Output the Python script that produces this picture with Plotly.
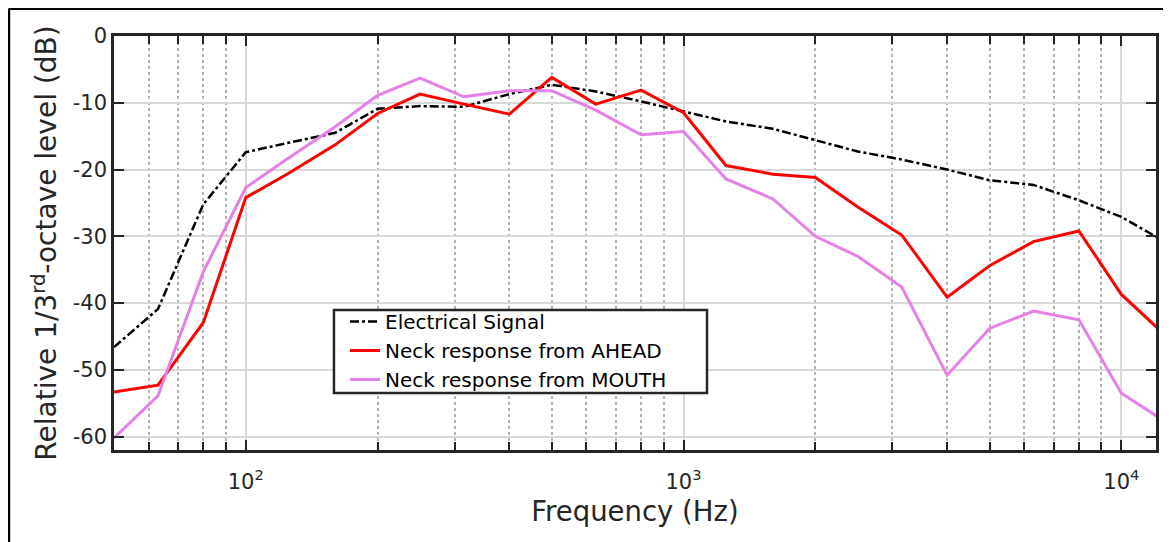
import plotly.graph_objects as go

# 1/3-octave centre frequencies (Hz)
freqs = [50, 63, 80, 100, 125, 160, 200, 250, 315, 400, 500, 630, 800, 1000,
         1250, 1600, 2000, 2500, 3150, 4000, 5000, 6300, 8000, 10000, 12500]

electrical = [-46.6, -40.9, -25.2, -17.4, -16.0, -14.5, -10.9, -10.5, -10.6, -8.7,
              -7.3, -8.3, -9.8, -11.3, -12.8, -13.9, -15.6, -17.3, -18.5, -20.0,
              -21.6, -22.3, -24.6, -27.1, -30.7]

ahead = [-53.3, -52.3, -42.9, -24.2, -20.6, -16.3, -11.6, -8.7, -10.2, -11.7,
         -6.2, -10.2, -8.1, -11.5, -19.4, -20.7, -21.2, -25.6, -29.8, -39.1,
         -34.4, -30.8, -29.2, -38.7, -44.6]

mouth = [-60.2, -53.9, -35.3, -22.7, -18.3, -13.6, -8.9, -6.3, -9.1, -8.2,
         -8.2, -11.1, -14.8, -14.3, -21.4, -24.4, -30.0, -33.0, -37.6, -50.8,
         -43.8, -41.2, -42.5, -53.5, -57.6]

series_names = ["Electrical Signal", "Neck response from AHEAD", "Neck response from MOUTH"]

x_major = [100, 1000, 10000]
x_major_text = ["10<sup>2</sup>", "10<sup>3</sup>", "10<sup>4</sup>"]
x_minor = [60, 70, 80, 90, 200, 300, 400, 500, 600, 700, 800, 900,
           2000, 3000, 4000, 5000, 6000, 7000, 8000, 9000]
y_ticks = [0, -10, -20, -30, -40, -50, -60]
y_tick_text = ["0", "-10", "-20", "-30", "-40", "-50", "-60"]

AX = "#262626"
FONT = "DejaVu Sans"

fig = go.Figure()
fig.add_trace(go.Scatter(x=freqs, y=electrical, mode="lines", name=series_names[0],
                         line=dict(color="black", width=2.5, dash="9px,3px,3px,3px")))
fig.add_trace(go.Scatter(x=freqs, y=ahead, mode="lines", name=series_names[1],
                         line=dict(color="#ff0000", width=3)))
fig.add_trace(go.Scatter(x=freqs, y=mouth, mode="lines", name=series_names[2],
                         line=dict(color="#e580e5", width=3)))

fig.update_xaxes(
    type="log", range=[1.69897, 4.07918],
    tickmode="array", tickvals=x_major, ticktext=x_major_text,
    ticks="inside", ticklen=10, tickwidth=2, tickcolor=AX,
    showline=True, linecolor=AX, linewidth=2.5, mirror="ticks",
    showgrid=True, gridcolor="#d8d8d8", gridwidth=2,
    minor=dict(tickmode="array", tickvals=x_minor, ticks="inside", ticklen=8,
               tickwidth=2, tickcolor=AX, showgrid=True, gridcolor="#b4b4b4",
               gridwidth=2, griddash="dot"),
    tickfont=dict(family=FONT, size=21, color=AX),
    ticklabelstandoff=11,
    title=dict(text="Frequency (Hz)", font=dict(family=FONT, size=27.5, color=AX), standoff=9),
    zeroline=False,
)
fig.update_yaxes(
    range=[-62, 0],
    tickmode="array", tickvals=y_ticks, ticktext=y_tick_text,
    ticks="inside", ticklen=10, tickwidth=2, tickcolor=AX,
    showline=True, linecolor=AX, linewidth=2.5, mirror="ticks",
    showgrid=True, gridcolor="#d8d8d8", gridwidth=2,
    tickfont=dict(family=FONT, size=21, color=AX),
    title=dict(text="Relative 1/3<sup>rd</sup>-octave level (dB)",
               font=dict(family=FONT, size=28, color=AX), standoff=8),
    zeroline=False,
)

fig.update_layout(
    width=1171, height=542,
    margin=dict(l=106, r=23, t=28, b=100),
    paper_bgcolor="white", plot_bgcolor="white",
    showlegend=True,
    legend=dict(x=0.2217, y=0.3575, xanchor="left", yanchor="top",
                bgcolor="rgba(0,0,0,0)", borderwidth=0,
                font=dict(family=FONT, size=20, color="black"),
                tracegroupgap=0),
    shapes=[
        # legend box
        dict(type="rect", xref="paper", yref="paper", x0=0.2111, x1=0.5691, y0=0.1377, y1=0.3382,
             fillcolor="white", line=dict(color=AX, width=2.5), layer="above"),
        # outer frame (top and left edges visible)
        dict(type="line", xref="paper", yref="paper", x0=-0.10106, x1=1.1, y0=1.06643, y1=1.06643,
             line=dict(color="black", width=3)),
        dict(type="line", xref="paper", yref="paper", x0=-0.10106, x1=-0.10106, y0=1.06643, y1=-0.25,
             line=dict(color="black", width=3)),
    ],
)

fig.write_html("out.html")
